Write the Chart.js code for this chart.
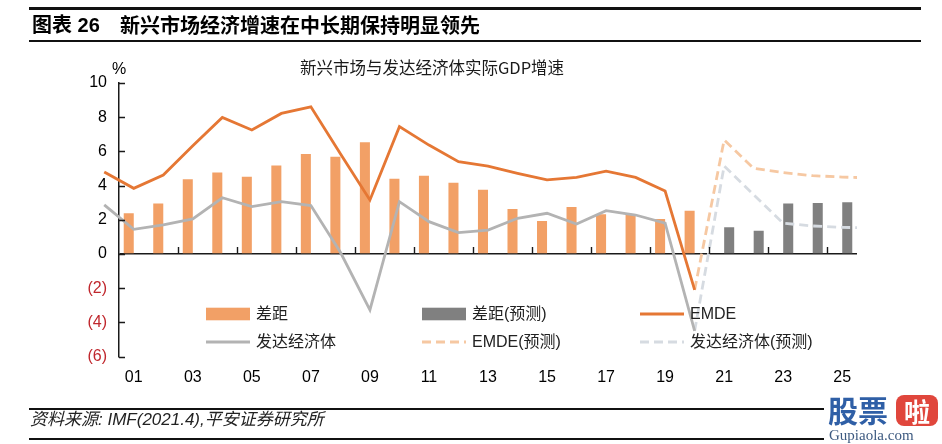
<!DOCTYPE html>
<html><head><meta charset="utf-8">
<script src="https://cdn.jsdelivr.net/npm/chart.js@4.4.1/dist/chart.umd.min.js"></script>
<style>
html,body{margin:0;padding:0;background:#fff;}
body{width:942px;height:444px;position:relative;overflow:hidden;font-family:"Liberation Sans","Noto Sans CJK SC",sans-serif;}
#c{position:absolute;left:0;top:0;}
.abs{position:absolute;white-space:nowrap;z-index:2;}
.rule{position:absolute;background:#111;z-index:2;}
</style></head><body>
<div class="rule" style="left:29px;top:7px;width:892px;height:2.6px"></div>
<div class="abs" style="left:32px;top:11px;font-size:20px;font-weight:bold;line-height:28px;color:#000">图表 26</div>
<div class="abs" style="left:120px;top:11px;font-size:20px;font-weight:bold;line-height:28px;color:#000;font-family:'Noto Sans CJK SC',sans-serif">新兴市场经济增速在中长期保持明显领先</div>
<div class="rule" style="left:29px;top:40px;width:892px;height:2px"></div>
<div class="abs" style="left:232px;top:55px;width:400px;text-align:center;font-size:16.5px;line-height:24px;color:#1a1a1a;font-family:'Noto Sans CJK SC',sans-serif">新兴市场与发达经济体实际GDP增速</div>
<canvas id="c" width="942" height="444"></canvas>
<div class="rule" style="left:29px;top:408px;width:795px;height:1.6px"></div>
<div class="abs" style="left:30px;top:409px;font-size:17px;line-height:22px;font-style:italic;color:#222">资料来源: IMF(2021.4),平安证券研究所</div>
<div class="rule" style="left:29px;top:438px;width:795px;height:1.6px"></div>
<div class="abs" style="left:828px;top:391px;font-size:30px;line-height:36px;font-weight:bold;color:#2f5fa6;font-family:'Noto Sans CJK SC',sans-serif">股票</div>
<div class="abs" style="left:896px;top:395px;width:42px;height:31px;background:#e0463c;border-radius:8px;color:#fff;font-size:26px;line-height:31px;text-align:center;font-weight:bold;font-family:'Noto Sans CJK SC',sans-serif">啦</div>
<div class="abs" style="left:829px;top:427px;font-size:15px;line-height:17px;color:#3d5a80;font-family:'Liberation Serif',serif">Gupiaola.com</div>
<script>
// ---- data ----
const gapYears = [2001,2002,2003,2004,2005,2006,2007,2008,2009,2010,2011,2012,2013,2014,2015,2016,2017,2018,2019,2020];
const gap = [2.38,2.96,4.37,4.76,4.52,5.18,5.85,5.69,6.53,4.40,4.58,4.17,3.76,2.63,1.93,2.75,2.32,2.28,2.05,2.53];
const gapForecastYears = [2021,2022,2023,2024,2025];
const gapForecast = [1.56,1.36,2.96,2.98,3.02];
const histYears = [2000,2001,2002,2003,2004,2005,2006,2007,2008,2009,2010,2011,2012,2013,2014,2015,2016,2017,2018,2019,2020];
const emde = [4.8,3.84,4.62,6.33,7.99,7.25,8.22,8.61,5.86,3.16,7.45,6.37,5.40,5.14,4.72,4.33,4.48,4.85,4.48,3.68,-2.1];
const advanced = [2.87,1.44,1.70,2.05,3.29,2.77,3.06,2.83,0.10,-3.27,3.06,1.89,1.25,1.40,2.09,2.38,1.75,2.53,2.28,1.80,-4.5];
const forecastYears = [2020,2021,2022,2023,2024,2025,2026];
const emdeForecast = [-2.1,6.67,5.01,4.76,4.58,4.50,4.45];
const advancedForecast = [-4.5,5.15,3.46,1.80,1.64,1.56,1.52];
const xTickYears = [2001,2003,2005,2007,2009,2011,2013,2015,2017,2019,2021,2023,2025];
const yTickValues = [-6,-4,-2,0,2,4,6,8,10];

const pts = (xs, ys) => xs.map((x, i) => ({x: x, y: ys[i]}));
const FONT = '"Liberation Sans","Noto Sans CJK SC",sans-serif';
const RED = '#c0272d';

const datasets = [
  {type:'line', label:'EMDE', data:pts(histYears, emde), borderColor:'#e57734', borderWidth:2.8, pointRadius:0, tension:0, order:0, clip:false},
  {type:'line', label:'发达经济体', data:pts(histYears, advanced), borderColor:'#b3b3b3', borderWidth:2.8, pointRadius:0, tension:0, order:0, clip:false},
  {type:'line', label:'EMDE(预测)', data:pts(forecastYears, emdeForecast), borderColor:'#f6c8a2', borderWidth:2.8, borderDash:[9,5], pointRadius:0, tension:0, order:0, clip:{left:false, top:false, right:0, bottom:false}},
  {type:'line', label:'发达经济体(预测)', data:pts(forecastYears, advancedForecast), borderColor:'#d6dbe1', borderWidth:2.8, borderDash:[9,5], pointRadius:0, tension:0, order:0, clip:{left:false, top:false, right:0, bottom:false}},
  {type:'bar', label:'差距', data:pts(gapYears, gap), backgroundColor:'#f2a066', categoryPercentage:0.68, barPercentage:1.0, order:1},
  {type:'bar', label:'差距(预测)', data:pts(gapForecastYears, gapForecast), backgroundColor:'#808080', categoryPercentage:0.68, barPercentage:1.0, order:1}
];

// legend layout: [label, column, row]
const legendLayout = [['差距',0,0],['差距(预测)',1,0],['EMDE',2,0],['发达经济体',0,1],['EMDE(预测)',1,1],['发达经济体(预测)',2,1]];

const decor = {
  id:'decor',
  afterDatasetsDraw(chart){
    const ctx = chart.ctx, a = chart.chartArea, xs = chart.scales.x, ys = chart.scales.y;
    ctx.save();
    ctx.strokeStyle = '#1a1a1a'; ctx.lineWidth = 1.4;
    ctx.beginPath();
    yTickValues.forEach(v => { const y = Math.round(ys.getPixelForValue(v)) + 0.5; ctx.moveTo(a.left, y); ctx.lineTo(a.left + 6, y); });
    const y0 = ys.getPixelForValue(0);
    xTickYears.slice(1).forEach(v => { const x = Math.round(xs.getPixelForValue(v - 0.5)) + 0.5; ctx.moveTo(x, y0); ctx.lineTo(x, y0 - 7); });
    ctx.stroke();
    ctx.restore();
  },
  afterDraw(chart){
    const ctx = chart.ctx, a = chart.chartArea;
    ctx.save();
    ctx.fillStyle = '#000'; ctx.font = '16px ' + FONT; ctx.textAlign = 'center'; ctx.textBaseline = 'middle';
    ctx.fillText('%', a.left, a.top - 13);
    const colX = [a.left + 87, a.left + 303, a.left + 521];
    const rowY = [a.top + 231, a.top + 259];
    ctx.textAlign = 'left';
    legendLayout.forEach(([label, c, r]) => {
      const ds = chart.data.datasets.find(d => d.label === label);
      const x = colX[c], y = rowY[r];
      if (ds.type === 'bar') {
        ctx.fillStyle = ds.backgroundColor;
        ctx.fillRect(x, y - 6.3, 44, 12.6);
      } else {
        ctx.strokeStyle = ds.borderColor; ctx.lineWidth = ds.borderWidth;
        ctx.setLineDash(ds.borderDash || []);
        ctx.beginPath(); ctx.moveTo(x, y); ctx.lineTo(x + 44, y); ctx.stroke();
        ctx.setLineDash([]);
      }
      ctx.fillStyle = '#222';
      ctx.fillText(label, x + 50, y + 1);
    });
    ctx.restore();
  }
};

new Chart(document.getElementById('c'), {
  data:{datasets:datasets},
  options:{
    responsive:false, animation:false, devicePixelRatio:1,
    layout:{padding:{top:83, right:85, left:0, bottom:0}},
    plugins:{legend:{display:false}, title:{display:false}, tooltip:{enabled:false}},
    scales:{
      x:{type:'linear', min:2000.5, max:2025.5, offset:false,
        afterBuildTicks:s => { s.ticks = xTickYears.map(v => ({value:v})); },
        afterFit:s => { s.height = 87.4; },
        ticks:{callback:v => String(v).slice(2), color:'#000', font:{size:16, family:FONT}, padding:11, autoSkip:false, maxRotation:0},
        grid:{display:false, drawTicks:false, offset:false}, border:{display:false}},
      y:{type:'linear', min:-6, max:10,
        afterFit:s => { s.width = 119; },
        afterBuildTicks:s => { s.ticks = yTickValues.map(v => ({value:v})); },
        ticks:{callback:v => v < 0 ? '(' + (-v) + ')' : String(v), color:c => c.tick.value < 0 ? RED : '#000', font:{size:16, family:FONT}, padding:12},
        grid:{drawTicks:false, color:c => c.tick.value === 0 ? '#1a1a1a' : 'rgba(0,0,0,0)', lineWidth:1.5},
        border:{display:true, color:'#1a1a1a', width:1.5}}
    }
  },
  plugins:[decor]
});
</script>
</body></html>
